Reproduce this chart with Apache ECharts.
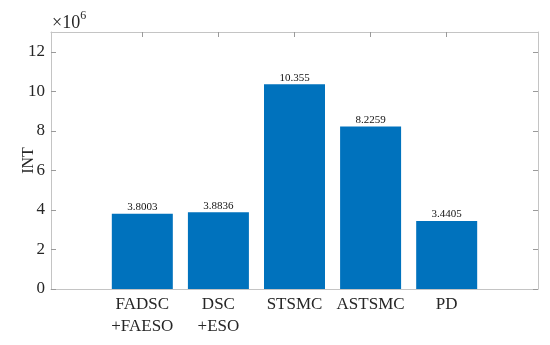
<!DOCTYPE html>
<html><head><meta charset="utf-8">
<script src="https://cdn.jsdelivr.net/npm/echarts@6/dist/echarts.min.js"></script>
<style>html,body{margin:0;padding:0;background:#fff}#c{width:550px;height:345px}</style>
</head><body><div id="c"></div>
<script>
const categories = ['FADSC\n+FAESO', 'DSC\n+ESO', 'STSMC', 'ASTSMC', 'PD'];
const positions = [1, 2, 3, 4, 5];
const values = [3.8003, 3.8836, 10.355, 8.2259, 3.4405];
const valueLabels = ['3.8003', '3.8836', '10.355', '8.2259', '3.4405'];
const yTicks = [0, 2, 4, 6, 8, 10, 12];

const FONT = '"Liberation Serif", "Times New Roman", serif';
const TXT = '#262626';
const LINE = '#c4c4c4';

const chart = echarts.init(document.getElementById('c'), null, {renderer: 'canvas'});
const data = positions.map((p, i) => [p, values[i]]);
chart.setOption({
  animation: false,
  grid: {left: 51, top: 32, right: 12, bottom: 56, containLabel: false, outerBoundsMode: 'none'},
  xAxis: [{
    type: 'value', min: -0.2, max: 6.2, position: 'bottom',
    axisLine: {show: true, onZero: false, lineStyle: {color: LINE, width: 1}},
    axisTick: {show: true, inside: true, length: 5, customValues: positions, lineStyle: {color: '#9a9a9a'}},
    axisLabel: {customValues: positions, formatter: v => categories[positions.indexOf(v)] || '',
      color: TXT, fontFamily: FONT, fontSize: 17, lineHeight: 22, margin: 5},
    splitLine: {show: false}
  }, {
    type: 'value', min: -0.2, max: 6.2, position: 'top',
    axisLine: {show: true, onZero: false, lineStyle: {color: LINE, width: 1}},
    axisTick: {show: true, inside: true, length: 5, customValues: positions, lineStyle: {color: '#9a9a9a'}},
    axisLabel: {show: false}, splitLine: {show: false}
  }],
  yAxis: [{
    type: 'value', min: 0, max: 13, position: 'left',
    name: 'INT', nameLocation: 'middle', nameGap: 14, nameRotate: 90, nameMoveOverlap: false,
    nameTextStyle: {color: TXT, fontFamily: FONT, fontSize: 16},
    axisLine: {show: true, onZero: false, lineStyle: {color: LINE, width: 1}},
    axisTick: {show: true, inside: true, length: 5, customValues: yTicks, lineStyle: {color: '#9a9a9a'}},
    axisLabel: {customValues: yTicks, color: TXT, fontFamily: FONT, fontSize: 17, margin: 6},
    splitLine: {show: false}
  }, {
    type: 'value', min: 0, max: 13, position: 'right',
    axisLine: {show: true, onZero: false, lineStyle: {color: LINE, width: 1}},
    axisTick: {show: true, inside: true, length: 5, customValues: yTicks, lineStyle: {color: '#9a9a9a'}},
    axisLabel: {show: false}, splitLine: {show: false}
  }],
  graphic: [{
    type: 'text', left: 52, top: 10,
    style: {
      text: '{a|×10}{b|6}',
      rich: {
        a: {fontFamily: FONT, fontSize: 18, fill: TXT, verticalAlign: 'bottom', lineHeight: 22},
        b: {fontFamily: FONT, fontSize: 12, fill: TXT, verticalAlign: 'top', lineHeight: 22, padding: [0, 0, 7, 0]}
      }
    }
  }],
  series: [{
    type: 'bar', xAxisIndex: 0, yAxisIndex: 0,
    data: data, barWidth: 61,
    itemStyle: {color: '#0072BD'},
    label: {show: true, position: 'top', distance: 1,
      formatter: p => valueLabels[p.dataIndex],
      color: '#111', fontFamily: FONT, fontSize: 11}
  }]
});
</script></body></html>
